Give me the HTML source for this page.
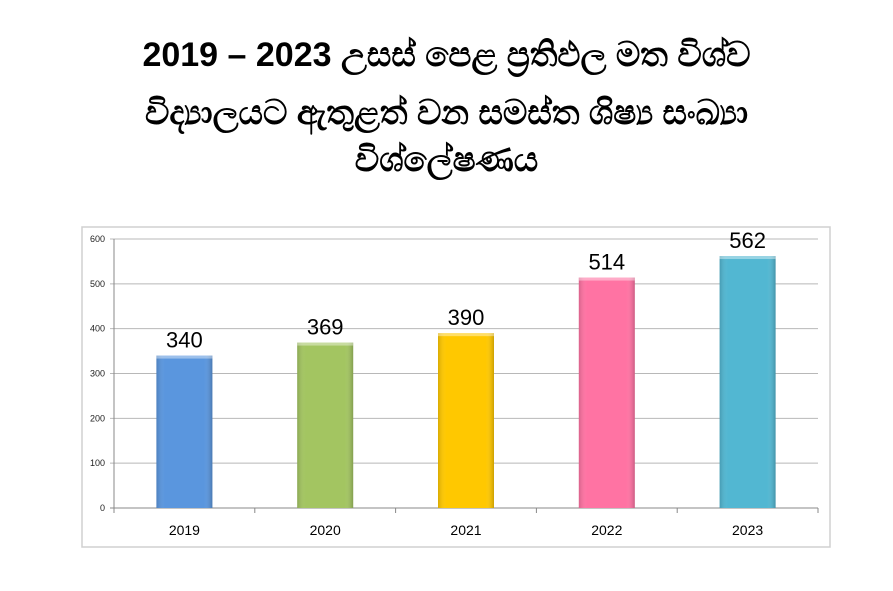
<!DOCTYPE html>
<html><head><meta charset="utf-8">
<style>
body{margin:0;width:893px;height:591px;background:#fff;overflow:hidden;font-family:"Liberation Sans","DejaVu Sans",sans-serif}
.t{position:absolute;left:0;width:893px;text-align:center;font-weight:bold;font-size:34px;color:#000;white-space:nowrap}
</style></head><body>
<div class="t" style="top:36px">2019 – 2023 උසස් පෙළ ප්‍රතිඵල මත විශ්ව</div>
<div class="t" style="top:94px">විද්‍යාලයට ඇතුළත් වන සමස්ත ශිෂ්‍ය සංඛ්‍යා</div>
<div class="t" style="top:141px">විශ්ලේෂණය</div>
<svg id="c" width="893" height="591" style="position:absolute;left:0;top:0">
<defs>
<linearGradient id="sh" x1="0" x2="1"><stop offset="0" stop-color="#000" stop-opacity="0.15"/><stop offset="0.15" stop-color="#fff" stop-opacity="0"/><stop offset="0.85" stop-color="#fff" stop-opacity="0"/><stop offset="1" stop-color="#000" stop-opacity="0.2"/></linearGradient>
</defs>
<rect x="82" y="227" width="748" height="320" fill="#fff" stroke="#d0d0d0" stroke-width="1.5"/>
</svg>
<script>
const categories=["2019","2020","2021","2022","2023"];
const values=[340,369,390,514,562];
const colors=["#5a96de","#a3c561","#ffc800","#ff73a3","#52b7d2"];
const ticks=[0,100,200,300,400,500,600];
const svg=document.getElementById('c'),NS='http://www.w3.org/2000/svg';
const X0=114,X1=818,Y0=508,Y1=239,maxV=600;
const y=v=>Y0-(v/maxV)*(Y0-Y1);
const band=(X1-X0)/categories.length;
const x=i=>X0+band*(i+0.5);
function mk(t,a){const e=document.createElementNS(NS,t);for(const k in a)e.setAttribute(k,a[k]);svg.appendChild(e);return e;}
ticks.forEach(t=>{
 const l=mk('line',{x1:X0-4,x2:X1,y1:y(t),y2:y(t),stroke:t?'#b8b8b8':'#888','stroke-width':1});
 
 
 const tx=mk('text',{x:X0-9,y:y(t)+3,'text-anchor':'end','font-size':9,fill:'#222'});
 tx.textContent=t;
 
 
});
const ax=mk('line',{x1:X0,x2:X0,y1:Y1,y2:Y0+4,stroke:'#888'});


for(let i=0;i<=categories.length;i++){
 const tk=mk('line',{x1:X0+band*i,x2:X0+band*i,y1:Y0,y2:Y0+5,stroke:'#888'});
 
 
}
categories.forEach((c,i)=>{
 const w=56,bx=x(i)-w/2,by=y(values[i]);
 const r=mk('rect',{x:bx,y:by,width:w,height:Y0-by,fill:colors[i]});
 
 
 const s=mk('rect',{x:bx,y:by,width:w,height:Y0-by,fill:'url(#sh)'});
 
 
 const tp=mk('rect',{x:bx,y:by,width:w,height:3,fill:'#fff','fill-opacity':0.4});
 
 
 const v=mk('text',{x:x(i),y:by-8,'text-anchor':'middle','font-size':22,fill:'#000'});
 v.textContent=values[i];
 
 
 const cl=mk('text',{x:x(i),y:Y0+27,'text-anchor':'middle','font-size':14,fill:'#000'});
 cl.textContent=c;
 
 
});
</script>
</body></html>
